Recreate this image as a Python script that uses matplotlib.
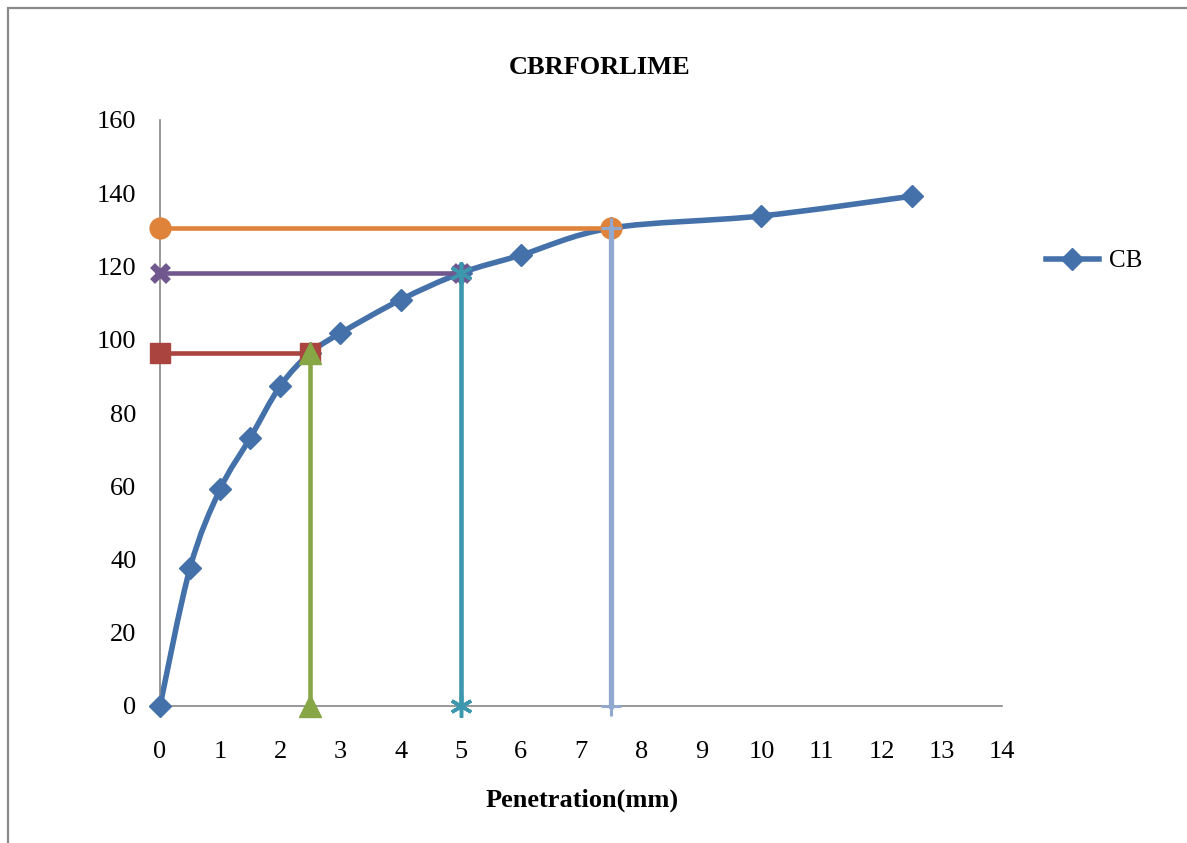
import numpy as np
import matplotlib
matplotlib.use("Agg")
import matplotlib.pyplot as plt
from matplotlib.path import Path
from matplotlib.patches import PathPatch, Rectangle
from matplotlib.lines import Line2D


# ====================== DATA ======================

penetration = [0, 0.5, 1, 1.5, 2, 2.5, 3, 4, 5, 6, 7.5, 10, 12.5]
load = [0, 37.7, 59.2, 73.2, 87.4, 96.4, 101.8, 110.9, 118.2, 123.1, 130.5, 133.8, 139.2]

# reading lines at 2.5, 5.0 and 7.5 mm
read_25 = 96.4
read_50 = 118.2
read_75 = 130.5

title = "CBRFORLIME"
xlabel = "Penetration(mm)"
series_name = "CB"

xticks = list(range(0, 15))
yticks = list(range(0, 161, 20))

# ====================== STYLE ======================

BLUE = "#4471a9"
RED = "#a9443f"
GREEN = "#87a645"
PURPLE = "#70588f"
TEAL = "#3d97ae"
ORANGE = "#df823a"
LIGHT = "#92a9cf"
AXIS = "#868686"

plt.rcParams["font.family"] = ["Liberation Serif", "DejaVu Serif"]


def smooth_path(xs, ys):
    # cubic bezier through every point, like a spreadsheet "smoothed line"
    pts = np.column_stack([xs, ys]).astype(float)
    n = len(pts)
    verts = [pts[0]]
    codes = [Path.MOVETO]
    for i in range(n - 1):
        p0 = pts[i - 1] if i > 0 else pts[i]
        p1 = pts[i]
        p2 = pts[i + 1]
        p3 = pts[i + 2] if i + 2 < n else pts[i + 1]
        c1 = p1 + (p2 - p0) / 6.0
        c2 = p2 - (p3 - p1) / 6.0
        verts += [c1, c2, p2]
        codes += [Path.CURVE4] * 3
    return Path(verts, codes)


fig = plt.figure(figsize=(11.87, 8.43), dpi=100, facecolor="white")
ax = fig.add_axes([160 / 1187, 1 - 706 / 843, 842 / 1187, 586 / 843])

# outer chart border
fig.patches.append(
    Rectangle((8 / 1187, -0.1), 1.2, 1.1 - 8 / 843, transform=fig.transFigure,
              fill=False, edgecolor="#8a8a8a", linewidth=1.6)
)

# smoothed CB curve + diamond markers
ax.add_patch(PathPatch(smooth_path(penetration, load), fill=False,
                       edgecolor=BLUE, linewidth=4.0, capstyle="round", zorder=2))
ax.plot(penetration, load, linestyle="none", marker="D", markersize=11,
        color=BLUE, markeredgecolor=BLUE, zorder=3, clip_on=False)

# reading lines, drawn in series order
lw = 3.3
ax.plot([0, 2.5], [read_25, read_25], color=RED, lw=lw, marker="s",
        markersize=15, zorder=4, clip_on=False)
ax.plot([2.5, 2.5], [0, read_25], color=GREEN, lw=lw, marker="^",
        markersize=16, zorder=5, clip_on=False)
ax.plot([0, 5], [read_50, read_50], color=PURPLE, lw=lw, marker="x",
        markersize=12, markeredgewidth=5, zorder=6, clip_on=False)
ax.plot([5, 5], [0, read_50], color=TEAL, lw=lw, marker=(6, 2, 0),
        markersize=16, markeredgewidth=2.5, zorder=7, clip_on=False)
ax.plot([0, 7.5], [read_75, read_75], color=ORANGE, lw=lw, marker="o",
        markersize=15, zorder=8, clip_on=False)
ax.plot([7.5, 7.5], [0, read_75], color=LIGHT, lw=3.8, marker="+",
        markersize=15, markeredgewidth=2.2, zorder=9, clip_on=False)

# axes
ax.set_xlim(0, 14)
ax.set_ylim(0, 160)
ax.set_xticks(xticks)
ax.set_yticks(yticks)
ax.tick_params(axis="both", length=0, labelsize=19)
ax.tick_params(axis="x", pad=25)
ax.tick_params(axis="y", pad=17)
for side in ("top", "right"):
    ax.spines[side].set_visible(False)
for side in ("left", "bottom"):
    ax.spines[side].set_color(AXIS)
    ax.spines[side].set_linewidth(1.2)

fig.text(600 / 1187, 1 - 67 / 843, title, ha="center", va="center",
         fontsize=19, fontweight="bold")
fig.text(582 / 1187, 1 - 800 / 843, xlabel, ha="center", va="center",
         fontsize=19, fontweight="bold")

# legend
handle = Line2D([0], [0], color=BLUE, linewidth=4.0, marker="D", markersize=11)
ax.legend([handle], [series_name], loc="center left", frameon=False,
          bbox_to_anchor=(1046 / 1187, 1 - 261 / 843), bbox_transform=fig.transFigure,
          fontsize=18, handlelength=2.1, handletextpad=0.4, borderpad=0,
          borderaxespad=0)

fig.savefig("out.png", dpi=100, facecolor="white")
